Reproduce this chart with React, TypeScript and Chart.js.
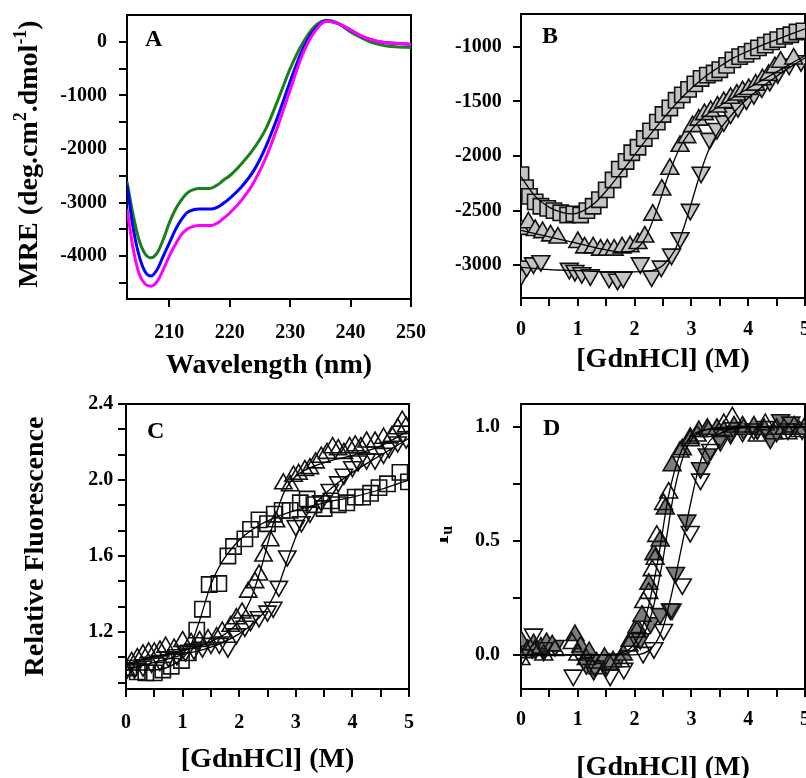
import React, { useEffect, useRef } from "react";
import { Chart, registerables } from "chart.js";

Chart.register(...registerables);

const SERIF = '"Liberation Serif", "Times New Roman", Times, serif';

// ---------------- Panel A : CD spectra ----------------
const wavelengthNm = [203, 204, 205, 206, 207, 208, 209, 210, 211, 212, 213, 214, 215, 216, 217, 218, 219, 220, 222, 224, 226, 228, 230, 232, 234, 236, 238, 240, 242, 244, 246, 248, 250];
const mreGreen = [-2610, -3220, -3700, -3960, -4030, -3940, -3690, -3380, -3130, -2950, -2820, -2760, -2740, -2740, -2730, -2670, -2580, -2500, -2270, -1990, -1620, -1080, -500, -40, 280, 400, 340, 185, 65, -30, -80, -95, -105];
const mreBlue = [-2670, -3460, -3990, -4290, -4370, -4250, -4000, -3755, -3510, -3320, -3185, -3135, -3120, -3120, -3120, -3085, -3010, -2920, -2700, -2400, -1950, -1380, -740, -160, 220, 390, 340, 220, 95, 20, -20, -30, -45];
const mreMagenta = [-3120, -3850, -4330, -4520, -4560, -4470, -4250, -4000, -3785, -3600, -3495, -3445, -3430, -3430, -3430, -3380, -3290, -3195, -2950, -2620, -2160, -1560, -900, -250, 180, 385, 340, 220, 95, 20, -20, -30, -45];
const aXTicks = [210, 220, 230, 240, 250];
const aYTicks = [-4500, -4000, -3500, -3000, -2500, -2000, -1500, -1000, -500, 0];
const aYLabeled = [-4000, -3000, -2000, -1000, 0];

// ---------------- Panel B ----------------
const bSquareX = [0, 0.08, 0.15, 0.25, 0.35, 0.47, 0.58, 0.7, 0.82, 0.93, 1.05, 1.16, 1.27, 1.38, 1.5, 1.62, 1.73, 1.85, 1.95, 2.06, 2.17, 2.28, 2.4, 2.5, 2.62, 2.73, 2.84, 2.95, 3.06, 3.17, 3.28, 3.4, 3.5, 3.62, 3.73, 3.85, 3.96, 4.07, 4.18, 4.3, 4.41, 4.52, 4.64, 4.75, 4.86, 4.98];
const bSquareY = [-2170, -2290, -2370, -2420, -2460, -2480, -2500, -2520, -2540, -2530, -2540, -2500, -2460, -2400, -2310, -2220, -2120, -2050, -1970, -1920, -1840, -1770, -1690, -1620, -1560, -1490, -1440, -1390, -1340, -1290, -1260, -1240, -1210, -1170, -1120, -1090, -1070, -1040, -1010, -985, -955, -935, -905, -890, -865, -855];
const bSquareFitX = [0, 0.25, 0.5, 0.75, 0.9, 1.1, 1.3, 1.5, 1.75, 2, 2.25, 2.5, 2.75, 3, 3.25, 3.5, 3.75, 4, 4.25, 4.5, 4.75, 5];
const bSquareFitY = [-2190, -2370, -2470, -2520, -2530, -2500, -2430, -2320, -2160, -1990, -1820, -1660, -1510, -1380, -1270, -1180, -1100, -1040, -985, -935, -885, -835];
const bUpX = [0, 0.13, 0.25, 0.38, 0.52, 0.65, 1.0, 1.12, 1.27, 1.4, 1.52, 1.64, 1.78, 1.92, 2.06, 2.18, 2.32, 2.48, 2.62, 2.8, 2.92, 3.02, 3.13, 3.23, 3.34, 3.46, 3.57, 3.69, 3.8, 3.9, 4.01, 4.13, 4.25, 4.36, 4.47, 4.57, 4.8];
const bUpY = [-2670, -2610, -2680, -2700, -2730, -2750, -2790, -2840, -2840, -2860, -2860, -2860, -2840, -2830, -2800, -2740, -2540, -2310, -2120, -1910, -1830, -1730, -1670, -1620, -1590, -1550, -1510, -1470, -1440, -1410, -1390, -1350, -1300, -1260, -1190, -1140, -1110];
const bUpFitX = [0, 0.5, 1, 1.5, 1.8, 2, 2.2, 2.4, 2.6, 2.8, 3, 3.2, 3.5, 4, 4.5, 5];
const bUpFitY = [-2680, -2740, -2800, -2860, -2880, -2860, -2740, -2480, -2170, -1920, -1760, -1650, -1540, -1380, -1230, -1080];
const bDownX = [0, 0.1, 0.22, 0.35, 0.85, 0.95, 1.07, 1.22, 1.55, 1.7, 1.8, 2.1, 2.3, 2.47, 2.65, 2.8, 2.98, 3.17, 3.32, 3.45, 3.57, 3.69, 3.82, 3.97, 4.1, 4.24, 4.38, 4.52, 4.72, 4.93];
const bDownY = [-3090, -3010, -2980, -2960, -3030, -3050, -3070, -3090, -3110, -3130, -3110, -2980, -3100, -3010, -2900, -2750, -2490, -2150, -1840, -1750, -1680, -1610, -1550, -1480, -1430, -1370, -1310, -1240, -1160, -1130];
const bDownFitX = [0, 0.5, 1, 1.5, 2, 2.3, 2.5, 2.7, 2.85, 3, 3.15, 3.3, 3.5, 3.75, 4, 4.5, 5];
const bDownFitY = [-3020, -3040, -3050, -3060, -3060, -3050, -3000, -2870, -2680, -2430, -2170, -1950, -1760, -1600, -1470, -1270, -1100];
const bYTicks = [-3000, -2500, -2000, -1500, -1000];

// ---------------- shared GdnHCl axis ----------------
const gdnTicks = [0, 0.5, 1, 1.5, 2, 2.5, 3, 3.5, 4, 4.5, 5];
const gdnLabeled = [0, 1, 2, 3, 4, 5];

// ---------------- Panel C ----------------
const cSquareX = [0.05, 0.2, 0.35, 0.5, 0.65, 0.8, 0.98, 1.1, 1.25, 1.35, 1.47, 1.64, 1.8, 1.9, 2.1, 2.2, 2.35, 2.5, 2.62, 2.76, 2.9, 3.08, 3.2, 3.32, 3.5, 3.62, 3.75, 3.9, 4.05, 4.18, 4.32, 4.47, 4.62, 4.84, 4.99];
const cSquareY = [1.01, 0.99, 0.985, 0.985, 1.0, 1.02, 1.05, 1.09, 1.21, 1.32, 1.45, 1.455, 1.6, 1.65, 1.69, 1.74, 1.79, 1.77, 1.82, 1.84, 1.84, 1.88, 1.9, 1.87, 1.85, 1.89, 1.87, 1.88, 1.91, 1.91, 1.93, 1.96, 1.98, 2.04, 1.99];
const cSquareFitX = [0, 0.5, 0.9, 1.1, 1.3, 1.5, 1.7, 1.9, 2.1, 2.4, 2.7, 3, 3.5, 4, 4.5, 5];
const cSquareFitY = [1.0, 1.0, 1.04, 1.1, 1.26, 1.45, 1.57, 1.65, 1.71, 1.77, 1.81, 1.84, 1.88, 1.91, 1.95, 2.0];
const cUpX = [0, 0.1, 0.2, 0.3, 0.4, 0.5, 0.6, 0.7, 0.85, 1.0, 1.15, 1.3, 1.45, 1.6, 1.7, 1.85, 1.95, 2.05, 2.16, 2.28, 2.35, 2.43, 2.55, 2.65, 2.78, 2.9, 2.96, 3.05, 3.16, 3.25, 3.35, 3.45, 3.55, 3.65, 3.75, 3.85, 3.95, 4.05, 4.15, 4.25, 4.4, 4.55, 4.7, 4.8, 4.88, 4.95];
const cUpY = [1.0, 1.04, 1.06, 1.08, 1.09, 1.09, 1.1, 1.12, 1.11, 1.15, 1.14, 1.15, 1.16, 1.17, 1.2, 1.23, 1.27, 1.3, 1.41, 1.46, 1.5, 1.6, 1.68, 1.78, 1.98, 1.97, 2.02, 2.03, 2.05, 2.06, 2.09, 2.12, 2.14, 2.17, 2.16, 2.14, 2.17, 2.18, 2.17, 2.2, 2.2, 2.22, 2.23, 2.27, 2.31, 2.28];
const cUpFitX = [0, 0.5, 1, 1.5, 1.8, 2, 2.2, 2.4, 2.6, 2.8, 3, 3.3, 3.6, 4, 4.5, 5];
const cUpFitY = [1.03, 1.07, 1.1, 1.15, 1.2, 1.26, 1.37, 1.55, 1.77, 1.94, 2.02, 2.07, 2.1, 2.13, 2.18, 2.26];
const cDownX = [0, 0.15, 0.3, 0.45, 0.6, 0.75, 0.9, 1.05, 1.2, 1.35, 1.5, 1.65, 1.8, 1.95, 2.1, 2.2, 2.35, 2.5, 2.6, 2.7, 2.85, 3.0, 3.1, 3.25, 3.45, 3.6, 3.75, 3.85, 4.0, 4.1, 4.25, 4.4, 4.55, 4.65, 4.8, 4.95];
const cDownY = [1.0, 1.01, 1.02, 1.04, 1.05, 1.07, 1.08, 1.1, 1.11, 1.12, 1.14, 1.14, 1.12, 1.19, 1.23, 1.26, 1.28, 1.31, 1.33, 1.44, 1.6, 1.76, 1.78, 1.83, 1.89, 1.95, 1.99, 2.03, 2.07, 2.1, 2.11, 2.11, 2.14, 2.17, 2.2, 2.22];
const cDownFitX = [0, 0.5, 1, 1.5, 2, 2.3, 2.5, 2.7, 2.9, 3.1, 3.3, 3.6, 4, 4.5, 5];
const cDownFitY = [1.0, 1.04, 1.08, 1.12, 1.19, 1.26, 1.33, 1.45, 1.62, 1.77, 1.86, 1.95, 2.04, 2.13, 2.22];
const cYTicks = [0.9333, 1.0667, 1.2, 1.3333, 1.4667, 1.6, 1.7333, 1.8667, 2.0, 2.1333, 2.2667, 2.4];
const cYLabeled = [1.2, 1.6, 2.0, 2.4];

// ---------------- Panel D ----------------
const dUpFilledX = [0, 0.12, 0.22, 0.35, 0.45, 0.55, 0.95, 1.05, 1.2, 1.33, 1.47, 1.62, 1.8, 1.92, 2.04, 2.13, 2.25, 2.34, 2.45, 2.54, 2.66, 2.84, 2.98, 3.13, 3.28, 3.45, 3.57, 3.75, 3.92, 4.1, 4.28, 4.45, 4.63, 4.81, 4.98];
const dUpFilledY = [0.06, 0.02, 0.045, 0.03, 0.05, 0.04, 0.085, 0.035, 0.01, -0.035, -0.015, -0.03, 0.0, 0.06, 0.12, 0.17, 0.31, 0.44, 0.5, 0.64, 0.83, 0.9, 0.95, 0.98, 0.99, 0.99, 0.98, 1.0, 0.99, 1.0, 0.99, 0.97, 0.99, 1.0, 0.99];
const dDownFilledX = [0.2, 0.4, 0.6, 1.15, 1.28, 1.5, 1.7, 2.1, 2.28, 2.45, 2.63, 2.72, 2.92, 3.16, 3.28, 3.5, 3.7, 3.92, 4.16, 4.39, 4.57, 4.75];
const dDownFilledY = [0.03, 0.02, 0.04, -0.04, -0.065, -0.05, -0.02, 0.07, 0.14, 0.18, 0.2, 0.36, 0.59, 0.82, 0.88, 0.95, 0.98, 0.99, 0.99, 0.95, 1.03, 1.02];
const dUpOpenX = [0, 0.1, 0.25, 0.4, 0.6, 0.9, 1.0, 1.15, 1.35, 1.55, 1.75, 1.9, 2.04, 2.16, 2.25, 2.31, 2.36, 2.39, 2.51, 2.6, 2.8, 2.98, 3.1, 3.3, 3.57, 3.72, 3.9, 4.16, 4.3, 4.5, 4.7, 4.9];
const dUpOpenY = [-0.02, 0.01, 0.02, 0.0, 0.02, 0.05, 0.0, -0.02, -0.06, -0.04, -0.03, 0.04, 0.1, 0.23, 0.27, 0.37, 0.42, 0.52, 0.66, 0.71, 0.89, 0.94, 0.96, 0.98, 1.01, 1.04, 1.0, 0.96, 1.01, 0.99, 0.97, 0.98];
const dDownOpenX = [0.01, 0.22, 0.4, 0.92, 1.1, 1.3, 1.57, 1.81, 2.15, 2.34, 2.51, 2.66, 2.84, 2.98, 3.16, 3.34, 3.51, 3.69, 3.9, 4.1, 4.3, 4.5, 4.7, 4.95];
const dDownOpenY = [0.0, 0.09, 0.03, -0.09, -0.02, -0.05, -0.09, -0.06, 0.01, 0.03, 0.11, 0.2, 0.31, 0.54, 0.77, 0.9, 0.94, 0.97, 0.98, 0.99, 1.0, 0.98, 0.99, 0.99];
const dFitUpAX = [0, 1.5, 1.8, 2, 2.2, 2.4, 2.6, 2.8, 3, 3.3, 3.8, 5];
const dFitUpAY = [0, 0, 0.01, 0.05, 0.17, 0.4, 0.7, 0.88, 0.96, 0.99, 1.0, 1.0];
const dFitUpBX = [0, 1.6, 1.9, 2.1, 2.3, 2.5, 2.7, 2.9, 3.1, 3.4, 5];
const dFitUpBY = [0, 0, 0.01, 0.06, 0.18, 0.42, 0.72, 0.9, 0.97, 0.99, 1.0];
const dFitDownX = [0, 2, 2.3, 2.5, 2.7, 2.85, 3, 3.15, 3.3, 3.5, 4, 5];
const dFitDownY = [0, 0, 0.03, 0.12, 0.32, 0.5, 0.68, 0.84, 0.93, 0.97, 1.0, 1.0];
const dYTicks = [0, 0.25, 0.5, 0.75, 1.0];
const dYLabeled = [0, 0.5, 1.0];

// ---------------- texts ----------------
const titleWavelength = "Wavelength (nm)";
const titleGdn = "[GdnHCl] (M)";
const titleFluor = "Relative Fluorescence";
const titleMRE = [
  { text: "MRE (deg.cm", size: 28, dy: 0 },
  { text: "2", size: 18, dy: -11 },
  { text: ".dmol", size: 28, dy: 0 },
  { text: "-1", size: 18, dy: -11 },
  { text: ")", size: 28, dy: 0 },
];
const titleFu = [
  { text: "f", size: 28, dy: 0 },
  { text: "u", size: 16, dy: 4 },
];

type Part = { text: string; size: number; dy: number };

const xyPairs = (xs: number[], ys: number[]) => xs.map((x, i) => ({ x, y: ys[i] }));
const hasVal = (arr: number[], v: number) => arr.some((a) => Math.abs(a - v) < 1e-6);

type AxisSpec = {
  min: number;
  max: number;
  ticks: number[];
  labeled: number[];
  fmt: (v: number) => string;
  pad: number;
  size: number;
  title?: string;
  titlePad?: number;
};

function axis(pos: "bottom" | "left", s: AxisSpec) {
  const horiz = pos === "bottom";
  return {
    type: "linear",
    position: pos,
    min: s.min,
    max: s.max,
    afterBuildTicks: (scale: any) => {
      scale.ticks = s.ticks.map((v) => ({ value: v }));
    },
    afterFit: (scale: any) => {
      if (horiz) scale.height = s.size;
      else scale.width = s.size;
      scale.paddingTop = 0;
      scale.paddingBottom = 0;
      scale.paddingLeft = 0;
      scale.paddingRight = 0;
    },
    ticks: {
      autoSkip: false,
      maxRotation: 0,
      minRotation: 0,
      padding: s.pad,
      color: "#000",
      font: { family: SERIF, size: 20, weight: "bold" },
      callback: (v: number) => (hasVal(s.labeled, v) ? s.fmt(v) : ""),
    },
    grid: { drawOnChartArea: false, drawTicks: true, tickLength: 8, lineWidth: 2, color: "#000" },
    border: { display: true, color: "#000", width: 2 },
    title: s.title
      ? {
          display: true,
          text: s.title,
          color: "#000",
          font: { family: SERIF, size: 28, weight: "bold" },
          padding: horiz ? { top: 0, bottom: s.titlePad } : { top: s.titlePad, bottom: 0 },
        }
      : { display: false },
  };
}

function drawRotated(ctx: CanvasRenderingContext2D, x: number, y: number, parts: Part[]) {
  ctx.save();
  ctx.translate(x, y);
  ctx.rotate(-Math.PI / 2);
  ctx.textBaseline = "alphabetic";
  ctx.textAlign = "left";
  ctx.fillStyle = "#000";
  let total = 0;
  for (const p of parts) {
    ctx.font = `bold ${p.size}px ${SERIF}`;
    total += ctx.measureText(p.text).width;
  }
  let cx = -total / 2;
  for (const p of parts) {
    ctx.font = `bold ${p.size}px ${SERIF}`;
    ctx.fillText(p.text, cx, p.dy);
    cx += ctx.measureText(p.text).width;
  }
  ctx.restore();
}

function decoPlugin(letter: string, lx: number, ly: number, rich?: { x: number; y: number; parts: Part[] }) {
  return {
    id: "deco" + letter,
    beforeDatasetsDraw(chart: any) {
      const { ctx, chartArea: a } = chart;
      ctx.save();
      ctx.strokeStyle = "#000";
      ctx.lineWidth = 2;
      ctx.strokeRect(a.left, a.top, a.right - a.left, a.bottom - a.top);
      ctx.restore();
    },
    afterDraw(chart: any) {
      const ctx = chart.ctx as CanvasRenderingContext2D;
      ctx.save();
      ctx.fillStyle = "#000";
      ctx.font = `bold 24px ${SERIF}`;
      ctx.textBaseline = "alphabetic";
      ctx.textAlign = "left";
      ctx.fillText(letter, lx, ly);
      ctx.restore();
      if (rich) drawRotated(ctx, rich.x, rich.y, rich.parts);
    },
  };
}

const fitLine = (xs: number[], ys: number[]) => ({
  data: xyPairs(xs, ys),
  showLine: true,
  pointRadius: 0,
  borderColor: "#000",
  borderWidth: 1.3,
  cubicInterpolationMode: "monotone",
  fill: false,
});

const markers = (xs: number[], ys: number[], style: string, rot: number, fill: string, r: number) => ({
  data: xyPairs(xs, ys),
  showLine: false,
  pointStyle: style,
  pointRotation: rot,
  pointRadius: r,
  pointBackgroundColor: fill,
  pointBorderColor: "#111",
  pointBorderWidth: 1.6,
});

const cdLine = (ys: number[], color: string) => ({
  data: xyPairs(wavelengthNm, ys),
  showLine: true,
  pointRadius: 0,
  borderColor: color,
  borderWidth: 3,
  cubicInterpolationMode: "monotone",
  fill: false,
});

function baseOptions(padding: any, x: any, y: any) {
  return {
    responsive: false,
    animation: false,
    devicePixelRatio: 1,
    events: [],
    layout: { autoPadding: false, padding },
    plugins: { legend: { display: false }, tooltip: { enabled: false } },
    scales: { x, y },
  };
}

const intFmt = (v: number) => String(Math.round(v));
const oneDec = (v: number) => v.toFixed(1);

function configA(): any {
  return {
    type: "scatter",
    data: {
      datasets: [cdLine(mreMagenta, "#ff00ff"), cdLine(mreBlue, "#0000ff"), cdLine(mreGreen, "#1b7f1b")],
    },
    options: baseOptions(
      { left: 0, top: 15, right: 49, bottom: 0 },
      axis("bottom", { min: 203, max: 250, ticks: aXTicks, labeled: aXTicks, fmt: intFmt, pad: 14, size: 91, title: titleWavelength, titlePad: 7 }),
      axis("left", { min: -4800, max: 500, ticks: aYTicks, labeled: aYLabeled, fmt: intFmt, pad: 12, size: 127 })
    ),
    plugins: [decoPlugin("A", 145, 46, { x: 37, y: 154, parts: titleMRE })],
  };
}

function configB(): any {
  const grey = "#c4c4c4";
  return {
    type: "scatter",
    data: {
      datasets: [
        fitLine(bSquareFitX, bSquareFitY),
        fitLine(bUpFitX, bUpFitY),
        fitLine(bDownFitX, bDownFitY),
        markers(bSquareX, bSquareY, "rect", 0, grey, 10.8),
        markers(bUpX, bUpY, "triangle", 0, grey, 10.3),
        markers(bDownX, bDownY, "triangle", 180, grey, 10.3),
      ],
    },
    options: baseOptions(
      { left: 0, top: 14, right: 55, bottom: 0 },
      axis("bottom", { min: 0, max: 5, ticks: gdnTicks, labeled: gdnLabeled, fmt: intFmt, pad: 11.5, size: 92, title: titleGdn, titlePad: 13 }),
      axis("left", { min: -3300, max: -700, ticks: bYTicks, labeled: bYTicks, fmt: intFmt, pad: 11.3, size: 81 })
    ),
    plugins: [decoPlugin("B", 102, 43)],
  };
}

function configC(): any {
  const open = "rgba(255,255,255,0)";
  return {
    type: "scatter",
    data: {
      datasets: [
        fitLine(cSquareFitX, cSquareFitY),
        fitLine(cUpFitX, cUpFitY),
        fitLine(cDownFitX, cDownFitY),
        markers(cSquareX, cSquareY, "rect", 0, open, 10.8),
        markers(cUpX, cUpY, "triangle", 0, open, 10),
        markers(cDownX, cDownY, "triangle", 180, open, 10),
      ],
    },
    options: baseOptions(
      { left: 0, top: 14, right: 51, bottom: 0 },
      axis("bottom", { min: 0, max: 5, ticks: gdnTicks, labeled: gdnLabeled, fmt: intFmt, pad: 14, size: 101, title: titleGdn, titlePad: 13.7 }),
      axis("left", { min: 0.9, max: 2.4, ticks: cYTicks, labeled: cYLabeled, fmt: oneDec, pad: 4.7, size: 126, title: titleFluor, titlePad: 18.7 })
    ),
    plugins: [decoPlugin("C", 147, 48)],
  };
}

function configD(): any {
  const open = "rgba(255,255,255,0)";
  const dark = "#7c7c7c";
  return {
    type: "scatter",
    data: {
      datasets: [
        fitLine(dFitUpAX, dFitUpAY),
        fitLine(dFitUpBX, dFitUpBY),
        fitLine(dFitDownX, dFitDownY),
        markers(dUpOpenX, dUpOpenY, "triangle", 0, open, 10.3),
        markers(dDownOpenX, dDownOpenY, "triangle", 180, open, 10.3),
        markers(dUpFilledX, dUpFilledY, "triangle", 0, dark, 10.3),
        markers(dDownFilledX, dDownFilledY, "triangle", 180, dark, 10.3),
      ],
    },
    options: baseOptions(
      { left: 0, top: 14, right: 55, bottom: 0 },
      axis("bottom", { min: 0, max: 5, ticks: gdnTicks, labeled: gdnLabeled, fmt: intFmt, pad: 10.7, size: 101, title: titleGdn, titlePad: 5 }),
      axis("left", { min: -0.15, max: 1.1, ticks: dYTicks, labeled: dYLabeled, fmt: oneDec, pad: 13, size: 81 })
    ),
    plugins: [decoPlugin("D", 103, 45, { x: 8, y: 145, parts: titleFu })],
  };
}

function Panel(props: { left: number; top: number; width: number; height: number; make: () => any }) {
  const ref = useRef<HTMLCanvasElement>(null);
  useEffect(() => {
    const chart = new Chart(ref.current as HTMLCanvasElement, props.make());
    return () => chart.destroy();
  }, []);
  return (
    <canvas
      ref={ref}
      width={props.width}
      height={props.height}
      style={{ position: "absolute", left: props.left, top: props.top, width: props.width, height: props.height, display: "block" }}
    />
  );
}

export default function App() {
  return (
    <div style={{ position: "absolute", left: 0, top: 0, width: 806, height: 778, overflow: "hidden", background: "#fff" }}>
      <Panel left={0} top={0} width={460} height={390} make={configA} />
      <Panel left={440} top={0} width={420} height={390} make={configB} />
      <Panel left={0} top={390} width={460} height={400} make={configC} />
      <Panel left={440} top={390} width={420} height={400} make={configD} />
    </div>
  );
}
